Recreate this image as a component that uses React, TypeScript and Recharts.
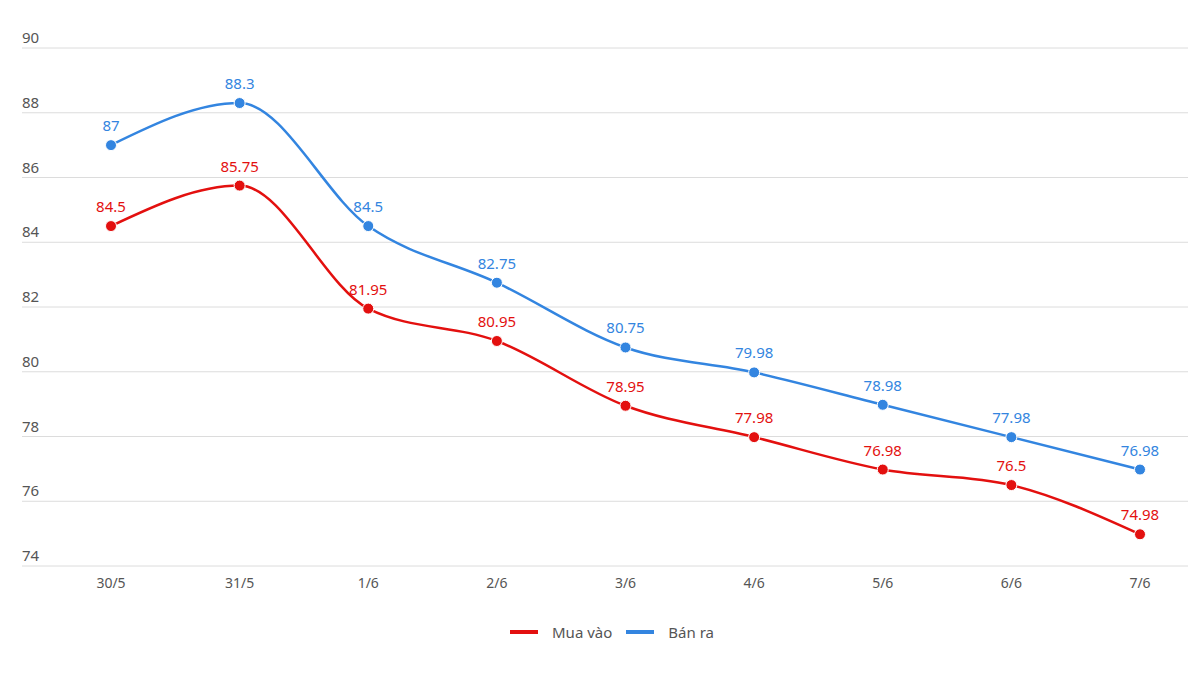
import { LineChart, Line, XAxis, YAxis, CartesianGrid, LabelList } from 'recharts';

// giá vàng theo ngày (triệu đồng/lượng)
const days = ['30/5', '31/5', '1/6', '2/6', '3/6', '4/6', '5/6', '6/6', '7/6'];
const muaVao = [84.5, 85.75, 81.95, 80.95, 78.95, 77.98, 76.98, 76.5, 74.98];
const banRa = [87, 88.3, 84.5, 82.75, 80.75, 79.98, 78.98, 77.98, 76.98];
const yTicks = [74, 76, 78, 80, 82, 84, 86, 88, 90];

const RED = '#e3100f';
const BLUE = '#3385e0';
const FONT = '"Noto Sans", "Open Sans", sans-serif';

const data = days.map((d, i) => ({ day: d, mua: muaVao[i], ban: banRa[i] }));

const YTick = (props: any) => {
    const { y, payload } = props;
    return (
        <text x={22} y={y - 5} fill="#555" fontSize={15} fontFamily={FONT} textAnchor="start">
            {payload.value}
        </text>
    );
};

export default function App() {
    return (
        <div style={{ position: 'absolute', left: 0, top: 0, width: 1188, height: 688, background: '#fff' }}>
            <LineChart
                width={1188}
                height={688}
                data={data}
                margin={{ top: 48, right: 0, left: 21, bottom: 82 }}
            >
                <CartesianGrid vertical={false} stroke="#dcdcdc" />
                <XAxis
                    dataKey="day"
                    height={40}
                    padding={{ left: 89, right: 48 }}
                    axisLine={false}
                    tickLine={false}
                    tick={{ fill: '#555', fontSize: 14, fontFamily: FONT }}
                    dy={4}
                />
                <YAxis
                    width={1}
                    domain={[74, 90]}
                    ticks={yTicks}
                    axisLine={false}
                    tickLine={false}
                    tick={<YTick />}
                    interval={0}
                />
                <Line
                    type="monotone"
                    dataKey="mua"
                    stroke={RED}
                    strokeWidth={2.5}
                    dot={{ r: 5.5, fill: RED, stroke: '#fff', strokeWidth: 1 }}
                    isAnimationActive={false}
                >
                    <LabelList dataKey="mua" position="top" offset={14} fill={RED} fontSize={15} fontFamily={FONT} />
                </Line>
                <Line
                    type="monotone"
                    dataKey="ban"
                    stroke={BLUE}
                    strokeWidth={2.5}
                    dot={{ r: 5.5, fill: BLUE, stroke: '#fff', strokeWidth: 1 }}
                    isAnimationActive={false}
                >
                    <LabelList dataKey="ban" position="top" offset={14} fill={BLUE} fontSize={15} fontFamily={FONT} />
                </Line>
            </LineChart>
            <div
                style={{
                    position: 'absolute',
                    top: 622,
                    left: 0,
                    width: 1188,
                    display: 'flex',
                    justifyContent: 'center',
                    gap: 14,
                    fontFamily: FONT,
                    fontSize: 15,
                    color: '#555',
                    paddingLeft: 36,
                    boxSizing: 'border-box',
                }}
            >
                {[{ name: 'Mua vào', color: RED }, { name: 'Bán ra', color: BLUE }].map((s) => (
                    <div key={s.name} style={{ display: 'flex', alignItems: 'center' }}>
                        <span style={{ display: 'inline-block', width: 28, height: 4, background: s.color, marginRight: 14 }} />
                        <span>{s.name}</span>
                    </div>
                ))}
            </div>
        </div>
    );
}
